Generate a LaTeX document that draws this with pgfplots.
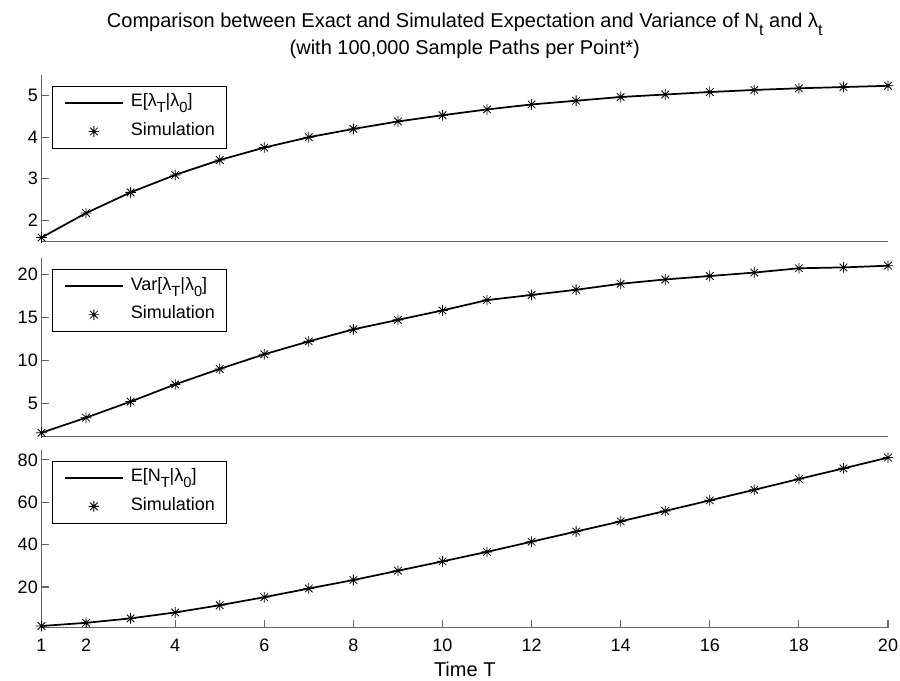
\documentclass[border=0pt]{standalone}
\usepackage{fontspec}
\setmainfont{Liberation Sans}
\usepackage{pgfplots}
\pgfplotsset{compat=1.18}

% MATLAB-style asterisk: + and x together
\pgfdeclareplotmark{mstar}{%
  \pgfpathmoveto{\pgfqpoint{-\pgfplotmarksize}{0pt}}%
  \pgfpathlineto{\pgfqpoint{\pgfplotmarksize}{0pt}}%
  \pgfpathmoveto{\pgfqpoint{0pt}{-\pgfplotmarksize}}%
  \pgfpathlineto{\pgfqpoint{0pt}{\pgfplotmarksize}}%
  \pgfpathmoveto{\pgfqpoint{-.7071\pgfplotmarksize}{-.7071\pgfplotmarksize}}%
  \pgfpathlineto{\pgfqpoint{.7071\pgfplotmarksize}{.7071\pgfplotmarksize}}%
  \pgfpathmoveto{\pgfqpoint{-.7071\pgfplotmarksize}{.7071\pgfplotmarksize}}%
  \pgfpathlineto{\pgfqpoint{.7071\pgfplotmarksize}{-.7071\pgfplotmarksize}}%
  \pgfusepathqstroke}

\newcommand\fs{\fontsize{13.5}{16}\selectfont}
\newcommand\fst{\fontsize{15}{18}\selectfont}
\newcommand\sub[1]{\raisebox{-4.5pt}{\fontsize{11}{11}\selectfont #1}}
\newcommand\tsub[1]{\raisebox{-6pt}{\fontsize{12}{12}\selectfont #1}}
\definecolor{axgray}{RGB}{100,100,100}

\pgfplotsset{
  panel/.style={
    scale only axis, width=634.875pt, xmin=1, xmax=20,
    axis lines*=left,
    axis line style={axgray, line width=0.8pt, -},
    tick align=inside, major tick length=6pt,
    tick style={axgray, line width=0.8pt},
    xtick=\empty, clip=false,
    /pgf/number format/assume math mode=true,
    ticklabel style={font=\fs},
    yticklabel style={anchor=east, inner xsep=0pt, xshift=-2.6pt},
    xticklabel style={anchor=base, inner ysep=0pt, yshift=-18pt},
    legend style={at={(0,1)}, anchor=north west, xshift=8.1pt, yshift=-8pt,
      draw=black, line width=0.6pt, font=\fs,
      inner xsep=8.5pt, inner ysep=6.5pt, row sep=9.5pt, column sep=5.25pt,
      nodes={inner sep=0pt, text height=9pt, text depth=3pt}},
    legend cell align=left,
  },
  exact/.style={black, line width=1.3pt, no marks,
    legend image code/.code={\draw[##1] (0pt,0pt) -- (43.5pt,0pt);}},
  sim/.style={black, only marks, mark=mstar, mark size=4pt,
    mark options={line width=0.6pt},
    legend image code/.code={\draw[##1, only marks] plot coordinates {(21.75pt,0pt)};}},
}

\begin{document}
\begin{tikzpicture}
\path[use as bounding box] (-31.125pt,-39.975pt) rectangle (643.875pt,470.775pt);

% top panel: E[lambda_T | lambda_0]
\begin{axis}[panel, at={(0pt,289.5pt)}, anchor=south west, height=125pt,
  ymin=1.48, ymax=5.5, ytick={2,3,4,5}]
  \addplot[exact] coordinates {
    (1,1.58)(2,2.17)(3,2.67)(4,3.09)(5,3.45)(6,3.75)(7,4.00)(8,4.20)(9,4.38)(10,4.53)
    (11,4.67)(12,4.79)(13,4.88)(14,4.97)(15,5.03)(16,5.09)(17,5.14)(18,5.18)(19,5.21)(20,5.24)};
  \addplot[sim] coordinates {
    (1,1.58)(2,2.17)(3,2.67)(4,3.09)(5,3.45)(6,3.75)(7,4.00)(8,4.20)(9,4.38)(10,4.53)
    (11,4.67)(12,4.79)(13,4.88)(14,4.97)(15,5.03)(16,5.09)(17,5.14)(18,5.18)(19,5.21)(20,5.24)};
  \legend{E[λ\sub{T}|λ\sub{0}], Simulation}
  \node[font=\fst, anchor=base] at (rel axis cs:0.5,1) [yshift=36pt]
    {Comparison between Exact and Simulated Expectation and Variance of N\tsub{t} and λ\tsub{t}};
  \node[font=\fst, anchor=base] at (rel axis cs:0.5,1) [yshift=15.75pt]
    {(with 100,000 Sample Paths per Point*)};
\end{axis}

% middle panel: Var[lambda_T | lambda_0]
\begin{axis}[panel, at={(0pt,143.25pt)}, anchor=south west, height=133.8pt,
  ymin=1.12, ymax=21.86, ytick={5,10,15,20}]
  \addplot[exact] coordinates {
    (1,1.58)(2,3.33)(3,5.2)(4,7.2)(5,9.0)(6,10.7)(7,12.2)(8,13.6)(9,14.7)(10,15.8)
    (11,17.0)(12,17.6)(13,18.2)(14,18.9)(15,19.4)(16,19.8)(17,20.2)(18,20.7)(19,20.8)(20,21.0)};
  \addplot[sim] coordinates {
    (1,1.58)(2,3.33)(3,5.2)(4,7.2)(5,9.0)(6,10.7)(7,12.2)(8,13.6)(9,14.7)(10,15.8)
    (11,17.0)(12,17.6)(13,18.2)(14,18.9)(15,19.4)(16,19.8)(17,20.2)(18,20.7)(19,20.8)(20,21.0)};
  \legend{Var[λ\sub{T}|λ\sub{0}], Simulation}
\end{axis}

% bottom panel: E[N_T | lambda_0]
\begin{axis}[panel, at={(0pt,0pt)}, anchor=south west, height=133.3pt,
  ymin=0.8, ymax=84.7, ytick={20,40,60,80},
  xtick={1,2,4,6,8,10,12,14,16,18,20}]
  \addplot[exact] coordinates {
    (1,1.6)(2,3.1)(3,5.2)(4,8.0)(5,11.4)(6,15.2)(7,19.3)(8,23.3)(9,27.7)(10,32.1)
    (11,36.6)(12,41.4)(13,46.2)(14,51.0)(15,55.9)(16,60.9)(17,65.9)(18,71.0)(19,76.0)(20,81.1)};
  \addplot[sim] coordinates {
    (1,1.6)(2,3.1)(3,5.2)(4,8.0)(5,11.4)(6,15.2)(7,19.3)(8,23.3)(9,27.7)(10,32.1)
    (11,36.6)(12,41.4)(13,46.2)(14,51.0)(15,55.9)(16,60.9)(17,65.9)(18,71.0)(19,76.0)(20,81.1)};
  \legend{E[N\sub{T}|λ\sub{0}], Simulation}
  \node[font=\fst, anchor=base] at (rel axis cs:0.5,0) [yshift=-36.5pt] {Time T};
\end{axis}
\end{tikzpicture}
\end{document}
